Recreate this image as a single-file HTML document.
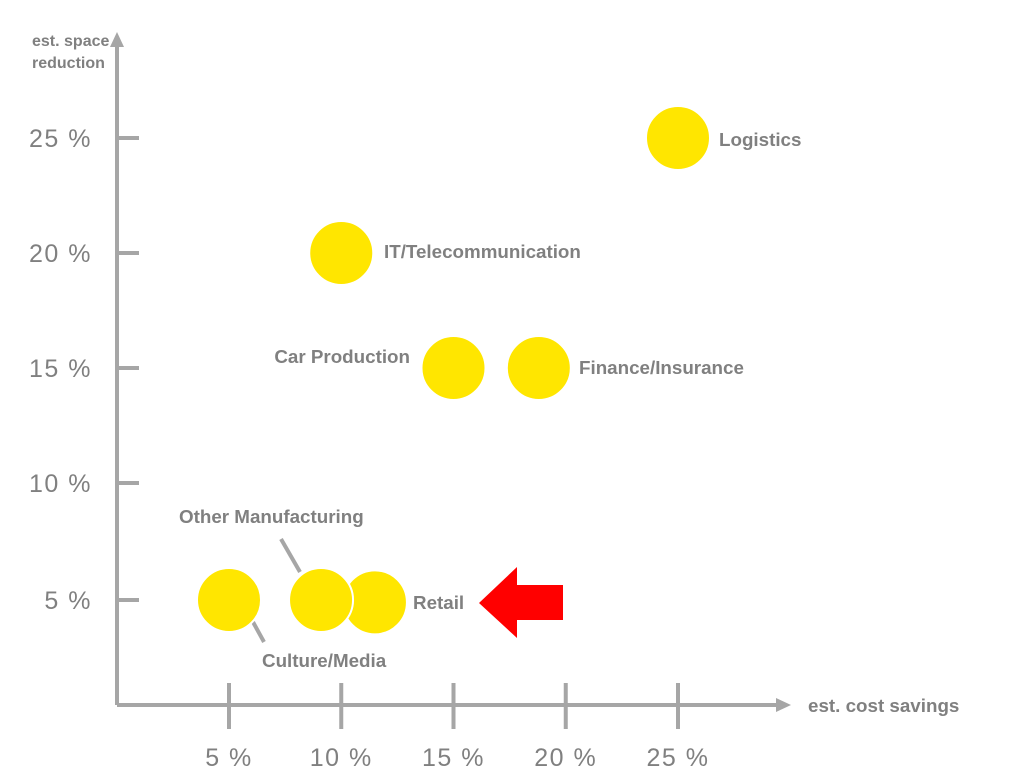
<!DOCTYPE html>
<html><head><meta charset="utf-8"><style>
body{margin:0;background:#fff;}
svg{display:block;font-family:"Liberation Sans",sans-serif;}
.lbl{fill:#808080;font-weight:bold;font-size:18.8px;}
.ttl{fill:#808080;font-weight:bold;font-size:16px;}
.tick{fill:#808080;font-size:25px;letter-spacing:1.5px;}
</style></head><body>
<svg id="c" width="1024" height="782">
<g id="axes"></g><g id="marks"></g>
</svg>
<script>
const names=["Logistics","IT/Telecommunication","Car Production","Finance/Insurance","Culture/Media","Other Manufacturing","Retail"];
const costSavings=[25,10,15,18.8,5,9.1,11.5];
const spaceReduction=[25,20,15,15,5,5,4.9];
const xTicks=[5,10,15,20,25];
const yTicks=[5,10,15,20,25];
const xTickLabels=["5 %","10 %","15 %","20 %","25 %"];
const yTickLabels=["5 %","10 %","15 %","20 %","25 %"];
const NS="http://www.w3.org/2000/svg";
const xs=v=>229+(v-5)*22.45;
const ys=v=>v<=10?600-(v-5)*23.4:483-(v-10)*23.0;
const axes=document.getElementById('axes'),marks=document.getElementById('marks');
function mk(t,a,p){const e=document.createElementNS(NS,t);for(const k in a)e.setAttribute(k,a[k]);p.appendChild(e);return e;}
const G="#a6a6a6";
let e;
e=mk('line',{x1:117,y1:705,x2:780,y2:705,stroke:G,'stroke-width':4},axes);


e=mk('polygon',{points:"791,705 776,698 776,712",fill:G},axes);


e=mk('line',{x1:117,y1:705,x2:117,y2:44,stroke:G,'stroke-width':4},axes);


e=mk('polygon',{points:"117,32 110,47 124,47",fill:G},axes);


xTicks.forEach((v,i)=>{
 let t=mk('line',{x1:xs(v),y1:683,x2:xs(v),y2:729,stroke:G,'stroke-width':4},axes);
 
 
 let l=mk('text',{x:xs(v),y:766,'text-anchor':'middle',class:'tick'},axes);l.textContent=xTickLabels[i];
 
 
});
yTicks.forEach((v,i)=>{
 let t=mk('line',{x1:117,y1:ys(v),x2:139,y2:ys(v),stroke:G,'stroke-width':4},axes);
 
 
 let l=mk('text',{x:92,y:ys(v)+9,'text-anchor':'end',class:'tick'},axes);l.textContent=yTickLabels[i];
 
 
});
e=mk('text',{x:32,y:46,class:'ttl'},axes);e.textContent="est. space";


e=mk('text',{x:32,y:68,class:'ttl'},axes);e.textContent="reduction";


e=mk('text',{x:808,y:712,class:'lbl'},axes);e.textContent="est. cost savings";


e=mk('line',{x1:281,y1:539,x2:300,y2:572,stroke:G,'stroke-width':4},marks);


e=mk('line',{x1:253,y1:622,x2:264,y2:642,stroke:G,'stroke-width':4},marks);


const order=[0,1,2,3,4,6,5];
const labelPos=[[719,146,'start'],[384,258,'start'],[410,363,'end'],[579,374,'start'],[262,667,'start'],[179,523,'start'],[413,609,'start']];
order.forEach(i=>{
 let c=mk('circle',{cx:xs(costSavings[i]),cy:ys(spaceReduction[i]),r:32,fill:'#ffe600',stroke:'#fff','stroke-width':2},marks);
 
 
});
names.forEach((n,i)=>{
 let l=mk('text',{x:labelPos[i][0],y:labelPos[i][1],'text-anchor':labelPos[i][2],class:'lbl'},marks);l.textContent=n;
 
 
});
e=mk('polygon',{points:"479,603 517,567 517,585 563,585 563,620 517,620 517,638",fill:'#ff0000'},marks);


</script>
</body></html>
